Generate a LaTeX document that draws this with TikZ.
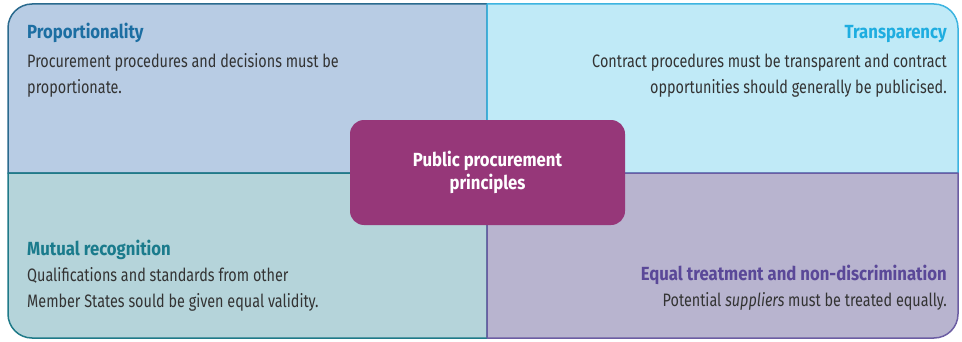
\documentclass[tikz,border=0pt]{standalone}
\usepackage{fontspec}
\setmainfont{Fira Sans}[FakeStretch=0.8]
\newfontfamily\headfont{Fira Sans}[FakeStretch=0.88]
\usetikzlibrary{positioning}
\definecolor{propfill}{HTML}{B8CCE4}
\definecolor{propline}{HTML}{2A6A8E}
\definecolor{proptext}{HTML}{1C6EA2}
\definecolor{transfill}{HTML}{C0EAF7}
\definecolor{transline}{HTML}{3DB4E0}
\definecolor{transtext}{HTML}{1EADE0}
\definecolor{mutfill}{HTML}{B5D4DA}
\definecolor{mutline}{HTML}{1F7A88}
\definecolor{muttext}{HTML}{1A7B8C}
\definecolor{eqfill}{HTML}{B8B4CF}
\definecolor{eqline}{HTML}{6C5DA3}
\definecolor{eqtext}{HTML}{5A4898}
\definecolor{corefill}{HTML}{963779}
\definecolor{bodytext}{HTML}{333333}

\begin{document}
\begin{tikzpicture}[x=1pt,y=1pt,
	title/.style={font=\fontsize{19}{27}\headfont\bfseries,inner sep=0pt},
	body/.style={font=\fontsize{18}{27}\selectfont,text=bodytext,inner sep=0pt},
	quad/.style={line width=1.5pt,line join=round}]
		\useasboundingbox (0,0) rectangle (962,341);
		\coordinate (M) at (487,168);
		% four quarters
		\draw[quad,draw=propline,fill=propfill] (M)--(8,168)--(8,313) arc[start angle=180,end angle=90,radius=24]--(487,337)--cycle;
		\draw[quad,draw=transline,fill=transfill] (M)--(487,337)--(934,337) arc[start angle=90,end angle=0,radius=24]--(958,168)--cycle;
		\draw[quad,draw=mutline,fill=mutfill] (M)--(8,168)--(8,27) arc[start angle=180,end angle=270,radius=24]--(487,3)--cycle;
		\draw[quad,draw=eqline,fill=eqfill] (M)--(487,3)--(934,3) arc[start angle=270,end angle=360,radius=24]--(958,168)--cycle;
		% texts
		\node[title,text=proptext,anchor=base west] (prop) at (27,302) {Proportionality};
		\node[body,anchor=base west] (prop1) at (27,274) {Procurement procedures and decisions must be};
		\node[body,anchor=base west] (prop2) at (27,248) {proportionate.};
		\node[title,text=transtext,anchor=base east] (trans) at (947,302) {Transparency};
		\node[body,anchor=base east] (trans1) at (947,274) {Contract procedures must be transparent and contract};
		\node[body,anchor=base east] (trans2) at (947,248) {opportunities should generally be publicised.};
		\node[title,text=muttext,anchor=base west] (mut) at (27,86) {Mutual recognition};
		\node[body,anchor=base west] (mut1) at (27,60) {Qualifications and standards from other};
		\node[body,anchor=base west] (mut2) at (27,34) {Member States sould be given equal validity.};
		\node[title,text=eqtext,anchor=base east] (eq) at (947,61) {Equal treatment and non-discrimination};
		\node[body,anchor=base east] (eq1) at (947,35) {Potential \emph{suppliers} must be treated equally.};
		% centre
		\node[fill=corefill,rounded corners=14pt,minimum width=275pt,minimum height=105pt,
			text=white,align=center,font=\fontsize{19}{23}\headfont\bfseries] (core) at (487.5,168.5) {Public procurement\\principles};
	\end{tikzpicture}
\end{document}
